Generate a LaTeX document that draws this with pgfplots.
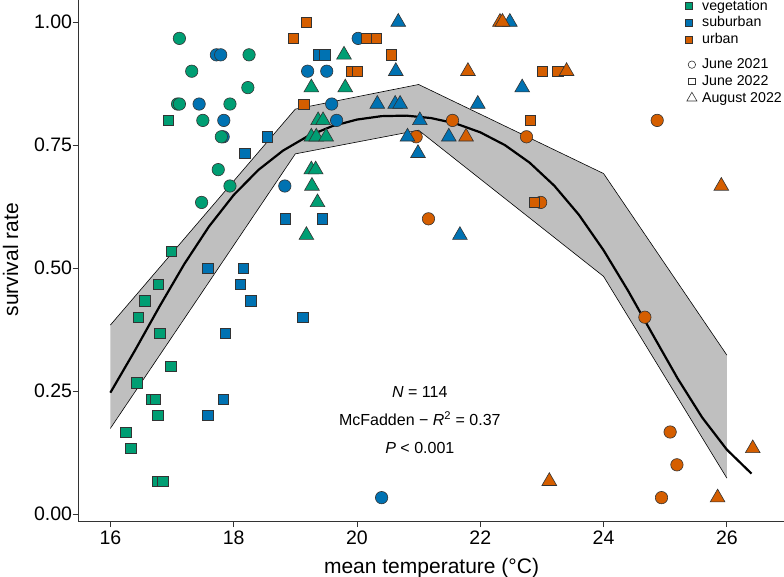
\documentclass[border=0pt]{standalone}
\usepackage{pgfplots}
\pgfplotsset{compat=1.18}
\usepackage{fontspec}
\setmainfont{Liberation Sans}

\definecolor{vegc}{HTML}{009E73}
\definecolor{subc}{HTML}{0072B2}
\definecolor{urbc}{HTML}{D55E00}
\definecolor{edge}{HTML}{333333}

\pgfplotsset{
  panel/.style={
    x=61.65pt, y=492pt,
    xmin=15.48, xmax=26.94, ymin=-0.015, ymax=1.0483,
    at={(0pt,0pt)}, anchor=south west,
  },
  circ/.style={only marks, mark=*, mark size=6.2pt,
    mark options={fill=#1, draw=edge, line width=0.6pt}},
  sqr/.style={only marks, mark=square*, mark size=5.15pt,
    mark options={fill=#1, draw=edge, line width=0.6pt}},
  tri/.style={only marks, mark=triangle*, mark size=8.5pt,
    mark options={fill=#1, draw=edge, line width=0.6pt}},
  keybox/.style={
    draw=none, fill=none, inner sep=0pt, outer sep=0pt,
    font=\fontsize{14.2}{17}\selectfont, row sep=0pt,
    nodes={inner sep=0pt, text height=12.4pt, text depth=4.3pt},
  },
}

\begin{document}
\begin{tikzpicture}
\useasboundingbox (-78.3pt,-55.6pt) rectangle (705.7pt,521.4pt);

\begin{axis}[panel,
  axis x line*=bottom, axis y line*=left,
  axis line style={-, line width=0.9pt, edge},
  tick style={line width=0.9pt, edge},
  major tick length=5.7pt, tick align=outside,
  xtick={16,18,...,26}, ytick={0,0.25,0.5,0.75,1},
  yticklabel style={xshift=3pt, /pgf/number format/.cd, fixed, fixed zerofill, precision=2},
  /pgf/number format/assume math mode=true,
  tick label style={font=\fontsize{19.5}{22}\selectfont, text=black},
  xlabel={mean temperature (°C)}, ylabel={survival rate},
  every axis x label/.style={at={(axis description cs:0.5,-0.0891)}, anchor=center,
    font=\fontsize{21}{25}\selectfont},
  every axis y label/.style={at={(axis description cs:-0.0958,0.5)}, rotate=90, anchor=center,
    font=\fontsize{21}{25}\selectfont},
]
% --- June 2021 (circles)
\addplot[circ=subc] coordinates {
 (17.72,0.9333) (17.79,0.9333) (19.20,0.9) (17.44,0.8333) (17.84,0.8)
 (17.83,0.7667) (18.83,0.6667) (20.02,0.9667) (19.51,0.9) (19.59,0.8333)
 (19.67,0.8) (20.40,0.0333)};
\addplot[circ=vegc] coordinates {
 (17.12,0.9667) (18.25,0.9333) (17.32,0.9) (18.23,0.8667) (17.09,0.8333)
 (17.12,0.8333) (17.94,0.8333) (17.50,0.8) (17.80,0.7667) (17.75,0.7)
 (17.94,0.6667) (17.48,0.6333)};
\addplot[circ=urbc] coordinates {
 (21.55,0.8) (20.96,0.7667) (21.16,0.6) (22.75,0.7667) (24.87,0.8)
 (22.98,0.6333) (24.67,0.4) (25.08,0.1667) (25.19,0.1) (24.94,0.0333)};
% --- June 2022 (squares)
\addplot[sqr=vegc] coordinates {
 (16.94,0.8) (16.99,0.5333) (16.78,0.4667) (16.56,0.4333) (16.45,0.4)
 (16.80,0.3667) (16.98,0.3) (16.43,0.2667) (16.67,0.2333) (16.73,0.2333)
 (16.77,0.2) (16.25,0.1667) (16.33,0.1333) (16.76,0.0667) (16.85,0.0667)};
\addplot[sqr=subc] coordinates {
 (18.55,0.7667) (18.18,0.7333) (18.84,0.6) (17.58,0.5) (18.16,0.5)
 (18.11,0.4667) (18.28,0.4333) (19.12,0.4) (17.87,0.3667) (17.83,0.2333)
 (17.58,0.2) (19.37,0.9333) (19.48,0.9333) (19.44,0.6)};
\addplot[sqr=urbc] coordinates {
 (19.18,1) (18.97,0.9667) (19.14,0.8333) (20.16,0.9667) (20.31,0.9667)
 (20.56,0.9333) (19.91,0.9) (20.01,0.9) (23.01,0.9) (23.26,0.9)
 (22.81,0.8) (22.88,0.6333)};
% --- August 2022 (triangles)
\addplot[tri=vegc] coordinates {
 (19.79,0.9333) (19.26,0.8667) (19.81,0.8667) (19.37,0.8) (19.45,0.8)
 (19.26,0.7667) (19.34,0.7667) (19.50,0.7667) (19.26,0.7) (19.33,0.7)
 (19.27,0.6667) (19.36,0.6333) (19.18,0.5667)};
\addplot[tri=subc] coordinates {
 (20.67,1) (20.63,0.9) (20.33,0.8333) (20.62,0.8333) (20.70,0.8333)
 (21.96,0.8333) (21.02,0.8) (20.82,0.7667) (21.49,0.7667) (20.99,0.7333)
 (21.67,0.5667) (22.48,1) (22.68,0.8667)};
\addplot[tri=urbc] coordinates {
 (21.80,0.9) (21.77,0.7667) (22.32,1) (22.36,1) (23.40,0.9)
 (25.91,0.6667) (26.42,0.1333) (25.85,0.0333) (23.12,0.0667)};

% --- confidence band of the quadratic logistic fit
\addplot[draw=none, fill=black, fill opacity=0.25] coordinates {
 (16,0.384) (19,0.823) (21,0.873) (24,0.692) (26,0.323)
 (26,0.073) (24,0.483) (21,0.780) (19,0.732) (16,0.174)};
\addplot[black, line width=0.6pt] coordinates {
 (16,0.384) (19,0.823) (21,0.873) (24,0.692) (26,0.323)};
\addplot[black, line width=0.6pt] coordinates {
 (16,0.174) (19,0.732) (21,0.780) (24,0.483) (26,0.073)};

% --- fitted curve
\addplot[black, line width=2.2pt, line join=round] coordinates {
 (16.0,0.2466) (16.4,0.3327) (16.8,0.4224) (17.2,0.5082) (17.6,0.5844)
 (18.0,0.6483) (18.4,0.6992) (18.8,0.7386) (19.2,0.7678) (19.6,0.7884)
 (20.0,0.8017) (20.4,0.8087) (20.8,0.8097) (21.2,0.8048) (21.6,0.7938)
 (22.0,0.7758) (22.4,0.7498) (22.8,0.7142) (23.2,0.6674) (23.6,0.6082)
 (24.0,0.5361) (24.4,0.4533) (24.8,0.3641) (25.2,0.2758) (25.6,0.1961)
 (26.0,0.1308) (26.4,0.0821)};

\node[align=center, font=\fontsize{16}{28}\selectfont] at (axis cs:21.02,0.191)
 {\textit{N} = 114\\McFadden − \textit{R}\textsuperscript{2} = 0.37\\\textit{P} < 0.001};
\end{axis}

% habitat key
\begin{axis}[panel, hide axis,
  legend style={keybox, at={(rel axis cs:0.8549,1.0010)}, anchor=north west},
  legend cell align=left,
  legend image code/.code={\draw[#1] plot coordinates {(0pt,0pt)};
    \path (-6pt,0pt) (13.5pt,0pt);},
]
\addlegendimage{only marks, mark=square*, mark size=3.4pt, mark options={fill=vegc, draw=edge, line width=0.5pt}}
\addlegendentry{vegetation}
\addlegendimage{only marks, mark=square*, mark size=3.4pt, mark options={fill=subc, draw=edge, line width=0.5pt}}
\addlegendentry{suburban}
\addlegendimage{only marks, mark=square*, mark size=3.4pt, mark options={fill=urbc, draw=edge, line width=0.5pt}}
\addlegendentry{urban}
\end{axis}

% survey key
\begin{axis}[panel, hide axis,
  legend style={keybox, at={(rel axis cs:0.8597,0.8890)}, anchor=north west},
  legend cell align=left,
  legend image code/.code={\draw[#1] plot coordinates {(0pt,0pt)};
    \path (-6pt,0pt) (10pt,0pt);},
]
\addlegendimage{only marks, mark=o, mark size=3.7pt, mark options={draw=edge, line width=0.6pt}}
\addlegendentry{June 2021}
\addlegendimage{only marks, mark=square, mark size=3.3pt, mark options={draw=edge, line width=0.6pt}}
\addlegendentry{June 2022}
\addlegendimage{only marks, mark=triangle, mark size=5.8pt, mark options={draw=edge, line width=0.6pt}}
\addlegendentry{August 2022}
\end{axis}
\end{tikzpicture}
\end{document}
